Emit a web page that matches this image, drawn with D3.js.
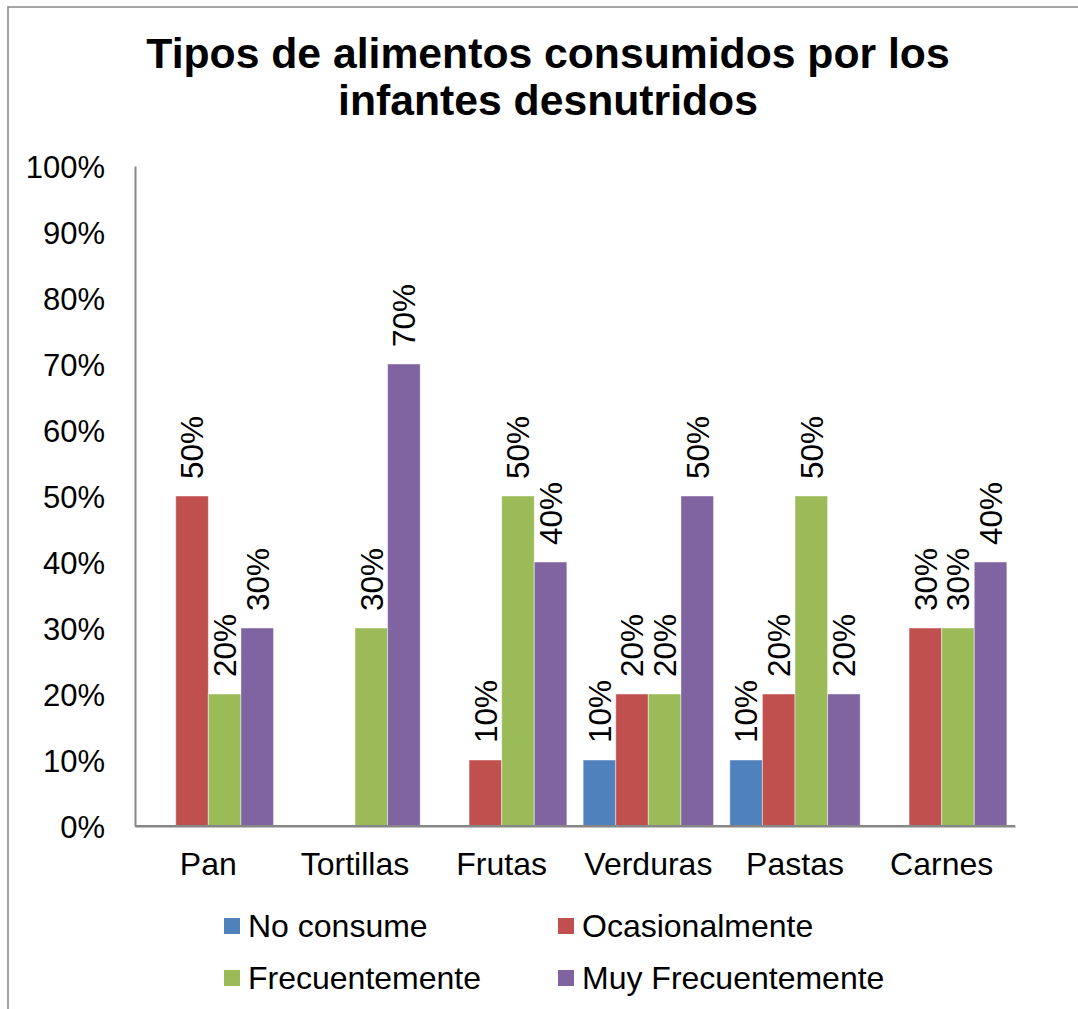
<!DOCTYPE html>
<html>
<head>
<meta charset="utf-8">
<script src="https://cdn.jsdelivr.net/npm/d3@7"></script>
<style>
  html, body { margin: 0; padding: 0; background: #fff; }
  svg { display: block; }
  text { font-family: "Liberation Sans", Arial, sans-serif; fill: #000; }
</style>
</head>
<body>
<svg id="chart" width="1078" height="1009"></svg>
<script>
const categories = ["Pan", "Tortillas", "Frutas", "Verduras", "Pastas", "Carnes"];
const seriesNames = ["No consume", "Ocasionalmente", "Frecuentemente", "Muy Frecuentemente"];
const noConsume        = [0, 0, 0, 10, 10, 0];
const ocasionalmente   = [50, 0, 10, 20, 20, 30];
const frecuentemente   = [20, 30, 50, 20, 50, 30];
const muyFrecuentemente = [30, 70, 40, 50, 20, 40];
const seriesValues = [noConsume, ocasionalmente, frecuentemente, muyFrecuentemente];
const seriesColors = ["#4F81BD", "#C0504D", "#9BBB59", "#8064A2"];
const yTicks = [0, 10, 20, 30, 40, 50, 60, 70, 80, 90, 100];
const titleLines = ["Tipos de alimentos consumidos por los", "infantes desnutridos"];

const svg = d3.select("#chart");

// outer frame
svg.append("rect")
  .attr("x", 8).attr("y", 7)
  .attr("width", 1200).attr("height", 1200)
  .attr("fill", "none").attr("stroke", "#888").attr("stroke-width", 1.5);

// title
svg.append("g").selectAll("text")
  .data(titleLines).join("text")
  .attr("x", 548).attr("y", (d, i) => 68 + i * 47)
  .attr("text-anchor", "middle")
  .attr("font-size", 42.7).attr("font-weight", "bold")
  .text(d => d);

const plotLeft = 135, plotRight = 1015, plotTop = 166, plotBottom = 826;

const x0 = d3.scaleBand().domain(categories).range([plotLeft, plotRight])
  .paddingInner(0.111).paddingOuter(0.0555);
const x1 = d3.scaleBand().domain(d3.range(seriesNames.length)).range([0, x0.bandwidth()]);
const y = d3.scaleLinear().domain([0, 100]).range([plotBottom, plotTop]);

// y axis
const yAxis = d3.axisLeft(y).tickValues(yTicks).tickSize(0).tickPadding(30)
  .tickFormat(d => d + "%");
const gy = svg.append("g").attr("transform", `translate(${plotLeft},0)`).call(yAxis);
gy.select(".domain").attr("stroke", "#868686").attr("stroke-width", 2);
gy.selectAll("text").attr("font-size", 31).attr("font-family", "Liberation Sans, Arial, sans-serif")
  .attr("fill", "#000").attr("dy", "0.36em");

// x axis
const xAxis = d3.axisBottom(x0).tickSize(0).tickPadding(0);
const gx = svg.append("g").attr("transform", `translate(0,${plotBottom})`).call(xAxis);
gx.select(".domain").attr("stroke", "#868686").attr("stroke-width", 2);
gx.selectAll("text").attr("font-size", 32).attr("font-family", "Liberation Sans, Arial, sans-serif")
  .attr("fill", "#000").attr("y", 48.5).attr("dy", null);

// bars
const cells = [];
categories.forEach((c, ci) => {
  seriesValues.forEach((vals, si) => {
    cells.push({ cat: c, s: si, v: vals[ci] });
  });
});

svg.append("g").selectAll("rect")
  .data(cells.filter(d => d.v > 0)).join("rect")
  .attr("x", d => x0(d.cat) + x1(d.s))
  .attr("y", d => y(d.v))
  .attr("width", x1.bandwidth())
  .attr("height", d => y(0) - y(d.v))
  .attr("fill", d => seriesColors[d.s])
  .attr("stroke", "rgba(255,255,255,0.45)").attr("stroke-width", 1);

// redraw x axis line on top
svg.append("line")
  .attr("x1", plotLeft).attr("x2", plotRight).attr("y1", plotBottom).attr("y2", plotBottom)
  .attr("stroke", "#868686").attr("stroke-width", 2);

// data labels
svg.append("g").selectAll("text")
  .data(cells.filter(d => d.v > 0)).join("text")
  .attr("transform", d => {
    const cx = x0(d.cat) + x1(d.s) + x1.bandwidth() / 2;
    return `translate(${cx},${y(d.v) - 17}) rotate(-90)`;
  })
  .attr("dy", "0.36em")
  .attr("font-size", 31.5)
  .text(d => d.v + "%");

// legend
const legendPos = [[224, 918], [558, 918], [224, 970], [558, 970]];
const lg = svg.append("g").selectAll("g")
  .data(seriesNames).join("g")
  .attr("transform", (d, i) => `translate(${legendPos[i][0]},${legendPos[i][1]})`);
lg.append("rect").attr("width", 16).attr("height", 16)
  .attr("fill", (d, i) => seriesColors[i]);
lg.append("text").attr("x", 24).attr("y", 18.7)
  .attr("font-size", 32).text(d => d);
</script>
</body>
</html>
